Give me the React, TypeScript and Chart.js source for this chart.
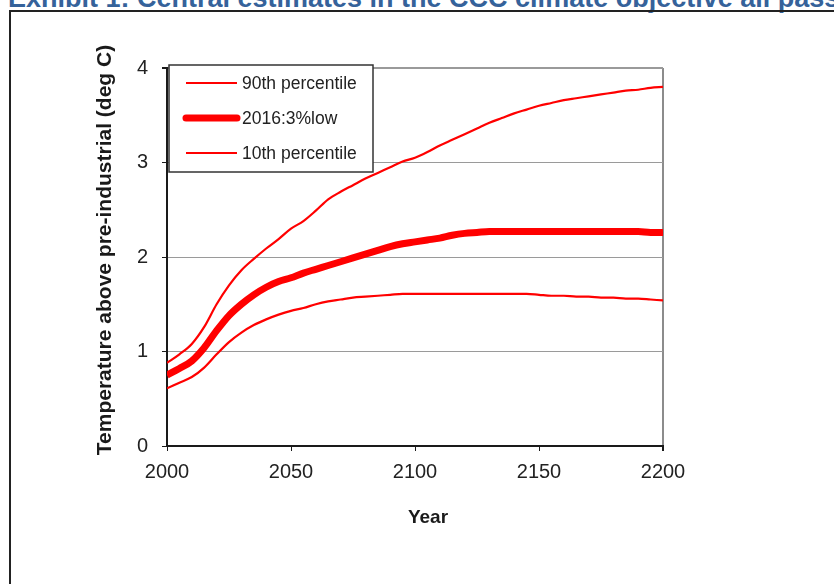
import React, { useEffect, useRef } from "react";
import { Chart, registerables } from "chart.js";

Chart.register(...registerables);

const years = [
  2000, 2005, 2010, 2015, 2020, 2025, 2030, 2035, 2040, 2045,
  2050, 2055, 2060, 2065, 2070, 2075, 2080, 2085, 2090, 2095,
  2100, 2105, 2110, 2115, 2120, 2125, 2130, 2135, 2140, 2145,
  2150, 2155, 2160, 2165, 2170, 2175, 2180, 2185, 2190, 2195, 2200,
];

const p90 = [
  0.88, 0.97, 1.08, 1.26, 1.5, 1.7, 1.86, 1.98, 2.09, 2.19,
  2.3, 2.38, 2.49, 2.61, 2.69, 2.76, 2.83, 2.89, 2.95, 3.01,
  3.05, 3.11, 3.18, 3.24, 3.3, 3.36, 3.42, 3.47, 3.52, 3.56,
  3.6, 3.63, 3.66, 3.68, 3.7, 3.72, 3.74, 3.76, 3.77, 3.79, 3.8,
];

const central = [
  0.75, 0.82, 0.9, 1.04, 1.22, 1.38, 1.5, 1.6, 1.68, 1.74,
  1.78, 1.83, 1.87, 1.91, 1.95, 1.99, 2.03, 2.07, 2.11, 2.14,
  2.16, 2.18, 2.2, 2.23, 2.25, 2.26, 2.27, 2.27, 2.27, 2.27,
  2.27, 2.27, 2.27, 2.27, 2.27, 2.27, 2.27, 2.27, 2.27, 2.26, 2.26,
];

const p10 = [
  0.61, 0.67, 0.73, 0.83, 0.97, 1.1, 1.2, 1.28, 1.34, 1.39,
  1.43, 1.46, 1.5, 1.53, 1.55, 1.57, 1.58, 1.59, 1.6, 1.61,
  1.61, 1.61, 1.61, 1.61, 1.61, 1.61, 1.61, 1.61, 1.61, 1.61,
  1.6, 1.59, 1.59, 1.58, 1.58, 1.57, 1.57, 1.56, 1.56, 1.55, 1.54,
];

const seriesLabels = ["90th percentile", "2016:3%low", "10th percentile"];
const yTicks = [0, 1, 2, 3, 4];
const xTicks = [2000, 2050, 2100, 2150, 2200];

const TITLE = "Exhibit 1: Central estimates in the CCC climate objective all pass";
const Y_TITLE = "Temperature above pre-industrial (deg C)";
const X_TITLE = "Year";

const FONT = "'Liberation Sans', Arial, sans-serif";

const overlayPlugin = {
  id: "overlay",
  afterDraw(chart: any) {
    const ctx = chart.ctx;
    const ca = chart.chartArea;
    ctx.save();
    // axis titles
    ctx.fillStyle = "#1a1a1a";
    ctx.font = `bold 21px ${FONT}`;
    ctx.textAlign = "center";
    ctx.textBaseline = "middle";
    ctx.save();
    ctx.translate(105, 250);
    ctx.rotate(-Math.PI / 2);
    ctx.fillText(Y_TITLE, 0, 0);
    ctx.restore();
    ctx.font = `bold 19px ${FONT}`;
    ctx.fillText(X_TITLE, 428, 518);

    // legend
    const x0 = ca.left + 2;
    const y0 = ca.top - 3;
    const w = 204;
    const h = 107;
    ctx.fillStyle = "#ffffff";
    ctx.fillRect(x0, y0, w, h);
    ctx.strokeStyle = "#333333";
    ctx.lineWidth = 1.5;
    ctx.strokeRect(x0, y0, w, h);
    const rows = [18, 53, 88];
    chart.data.datasets.forEach((ds: any, i: number) => {
      const y = y0 + rows[i];
      ctx.strokeStyle = ds.borderColor;
      ctx.lineWidth = ds.borderWidth;
      ctx.lineCap = i === 1 ? "round" : "butt";
      ctx.beginPath();
      ctx.moveTo(x0 + 17, y);
      ctx.lineTo(x0 + 68, y);
      ctx.stroke();
      ctx.fillStyle = "#222";
      ctx.font = `17.5px ${FONT}`;
      ctx.textAlign = "left";
      ctx.textBaseline = "middle";
      ctx.fillText(ds.label, x0 + 73, y + 1);
    });
    ctx.restore();
  },
};

export default function App() {
  const ref = useRef<HTMLCanvasElement | null>(null);

  useEffect(() => {
    if (!ref.current) return;
    const mk = (vals: number[]) => years.map((x, i) => ({ x, y: vals[i] }));
    const chart = new Chart(ref.current, {
      type: "line",
      data: {
        datasets: [
          {
            label: seriesLabels[0],
            data: mk(p90),
            borderColor: "#ff0000",
            borderWidth: 2.2,
            pointRadius: 0,
            cubicInterpolationMode: "monotone",
          },
          {
            label: seriesLabels[1],
            data: mk(central),
            borderColor: "#ff0000",
            borderWidth: 7,
            pointRadius: 0,
            cubicInterpolationMode: "monotone",
          },
          {
            label: seriesLabels[2],
            data: mk(p10),
            borderColor: "#ff0000",
            borderWidth: 2.2,
            pointRadius: 0,
            cubicInterpolationMode: "monotone",
          },
        ],
      },
      options: {
        responsive: false,
        animation: false,
        events: [],
        layout: { padding: { left: 0, right: 171, top: 68, bottom: 0 } },
        plugins: {
          legend: { display: false },
          tooltip: { enabled: false },
          title: { display: false },
        },
        scales: {
          x: {
            type: "linear",
            min: 2000,
            max: 2200,
            afterBuildTicks: (s: any) => {
              s.ticks = xTicks.map((v) => ({ value: v }));
            },
            afterFit: (s: any) => {
              s.height = 138;
            },
            ticks: {
              color: "#222",
              font: { family: FONT, size: 20 },
              padding: 9,
              maxRotation: 0,
              autoSkip: false,
              callback: (v: any) => String(v),
            },
            grid: {
              color: (c: any) => (c.tick && c.tick.value === 2200 ? "#8c8c8c" : "rgba(0,0,0,0)"),
              lineWidth: (c: any) => (c.tick && c.tick.value === 2200 ? 2 : 1),
              tickColor: "#1a1a1a",
              tickLength: 5,
              drawTicks: true,
            },
            border: { display: true, color: "#1a1a1a", width: 2 },
          },
          y: {
            type: "linear",
            min: 0,
            max: 4,
            afterBuildTicks: (s: any) => {
              s.ticks = yTicks.map((v) => ({ value: v }));
            },
            afterFit: (s: any) => {
              s.width = 167;
            },
            ticks: {
              color: "#222",
              font: { family: FONT, size: 20 },
              padding: 14,
              callback: (v: any) => String(v),
            },
            grid: {
              color: (c: any) => (c.tick && c.tick.value === 0 ? "rgba(0,0,0,0)" : "#9a9a9a"),
              lineWidth: (c: any) => (c.tick && c.tick.value === 4 ? 2 : 1),
              tickColor: "#1a1a1a",
              tickLength: 5,
              drawTicks: true,
            },
            border: { display: true, color: "#1a1a1a", width: 2 },
          },
        },
      },
      plugins: [overlayPlugin],
    } as any);
    return () => chart.destroy();
  }, []);

  return (
    <div
      style={{
        position: "fixed",
        left: 0,
        top: 0,
        width: 834,
        height: 584,
        overflow: "hidden",
        background: "#ffffff",
      }}
    >
      <div
        style={{
          position: "absolute",
          left: 8,
          top: -15,
          whiteSpace: "nowrap",
          font: `bold 27px ${FONT}`,
          lineHeight: "27px",
          color: "#35629a",
        }}
      >
        {TITLE}
      </div>
      <div
        style={{
          position: "absolute",
          left: 9,
          top: 10,
          width: 900,
          height: 700,
          border: "2px solid #222",
          boxSizing: "border-box",
        }}
      />
      <canvas
        ref={ref}
        width={834}
        height={584}
        style={{ position: "absolute", left: 0, top: 0, width: 834, height: 584 }}
      />
    </div>
  );
}
